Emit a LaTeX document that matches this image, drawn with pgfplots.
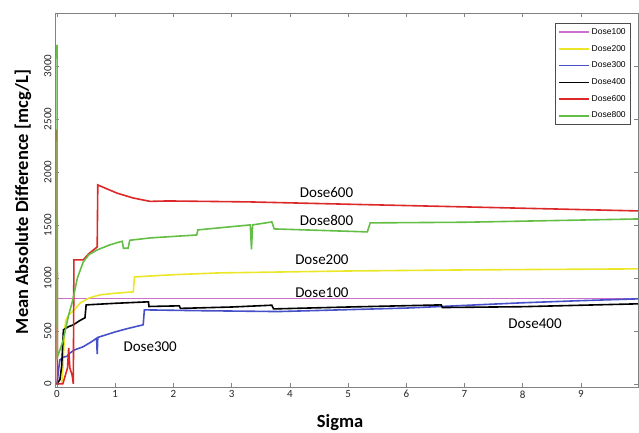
\documentclass[border=0pt]{standalone}
\usepackage{fontspec}
\setmainfont{Carlito}
\newfontfamily\arialfont{Liberation Sans}
\usepackage{pgfplots}
\pgfplotsset{compat=1.18}

\definecolor{cmag}{RGB}{204,110,204}
\definecolor{cyel}{RGB}{235,230,40}
\definecolor{cblu}{RGB}{70,80,200}
\definecolor{cred}{RGB}{220,40,40}
\definecolor{cgrn}{RGB}{100,190,70}
\definecolor{frame}{RGB}{130,130,130}

\begin{document}
\begin{tikzpicture}
\begin{axis}[
  scale only axis, width=583pt, height=374pt,
  xmin=-0.035, xmax=9.98, ymin=-30, ymax=3500,
  xtick={0,...,9}, ytick={0,500,...,3000},
  tick align=inside, major tick length=4pt,
  axis line style={frame}, every tick/.style={frame, line width=0.6pt},
  /pgf/number format/assume math mode=true,
  /pgf/number format/1000 sep={},
  ticklabel style={font=\fontsize{11}{13}\selectfont, text=black!85},
  yticklabel style={rotate=90, anchor=south},
  xlabel={\textbf{Sigma}},
  xlabel style={font=\fontsize{18.5}{20}\selectfont, at={(rel axis cs:0.489,0)}, anchor=center, yshift=-36pt},
  ylabel={\textbf{Mean Absolute Difference [mcg/L]}},
  ylabel style={font=\fontsize{18.5}{20}\selectfont, at={(rel axis cs:0,0.495)}, anchor=center, yshift=32pt},
  every axis plot/.append style={line width=1.6pt},
  legend cell align=left,
  legend style={at={(0.988,0.973)}, anchor=north east,
    font=\arialfont\fontsize{8.5}{9}\selectfont,
    draw=black!70, line width=0.6pt, row sep=5.3pt, inner sep=3pt},
  legend image code/.code={\draw[#1, line width=1.6pt] (0pt,0pt) -- (30pt,0pt);},
]
% Dose100
\addplot[cmag] coordinates {(0,805) (9.98,805)};
% Dose200
\addplot[cyel] coordinates {
(0.08,0) (0.1,130) (0.13,500) (0.15,600) (0.2,650) (0.3,700) (0.4,764)
(0.55,810) (0.74,840) (1.0,855) (1.31,868) (1.33,1009) (2.0,1030)
(2.8,1047) (5,1065) (7,1075) (9.98,1085)};
% Dose300
\addplot[cblu] coordinates {
(0,0) (0.03,150) (0.05,226) (0.1,250) (0.17,260) (0.22,290) (0.3,320)
(0.45,350) (0.6,400) (0.68,430) (0.69,280) (0.70,438) (1.0,490) (1.2,520)
(1.48,557) (1.50,698) (2.5,690) (3.8,682) (5,700) (6,715) (7,740)
(8,765) (9,785) (9.98,802)};
% Dose400
\addplot[black] coordinates {
(0,0) (0.05,40) (0.08,170) (0.11,510) (0.2,540) (0.28,557) (0.4,600)
(0.48,623) (0.50,745) (1.0,760) (1.57,774) (1.58,730) (2.1,736)
(2.12,712) (3.0,725) (3.69,742) (3.72,707) (5,725) (6.6,745) (6.62,720)
(8,728) (9.98,755)};
% Dose600
\addplot[cred] coordinates {
(0,2400) (0.005,0) (0.1,0) (0.18,150) (0.2,340) (0.22,150) (0.26,80)
(0.28,0) (0.29,1170) (0.45,1170) (0.55,1230) (0.69,1292) (0.70,1877)
(0.9,1830) (1.03,1800) (1.3,1755) (1.6,1722) (1.9,1726) (3.3,1717)
(5,1695) (7,1670) (9.98,1632)};
% Dose800
\addplot[cgrn] coordinates {
(0,3200) (0.005,250) (0.1,400) (0.2,650) (0.27,790) (0.35,1000)
(0.45,1150) (0.55,1220) (0.69,1264) (0.9,1310) (1.08,1340) (1.12,1345)
(1.14,1280) (1.22,1280) (1.25,1355) (1.6,1377) (2.4,1405) (2.42,1453)
(3.32,1500) (3.34,1270) (3.36,1500) (3.69,1528) (3.73,1462) (5.33,1434)
(5.38,1519) (7,1525) (9.98,1556)};
\legend{Dose100,Dose200,Dose300,Dose400,Dose600,Dose800}

\begin{scope}[every node/.style={font=\fontsize{15}{17}\selectfont}]
\node at (axis cs:4.63,1805) {Dose600};
\node at (axis cs:4.63,1538) {Dose800};
\node at (axis cs:4.55,1176) {Dose200};
\node at (axis cs:4.55,856) {Dose100};
\node at (axis cs:1.6,346) {Dose300};
\node at (axis cs:8.21,566) {Dose400};
\end{scope}
\end{axis}
\pgfresetboundingbox
\path (-55pt,-46pt) rectangle (584pt,387pt);
\end{tikzpicture}
\end{document}
